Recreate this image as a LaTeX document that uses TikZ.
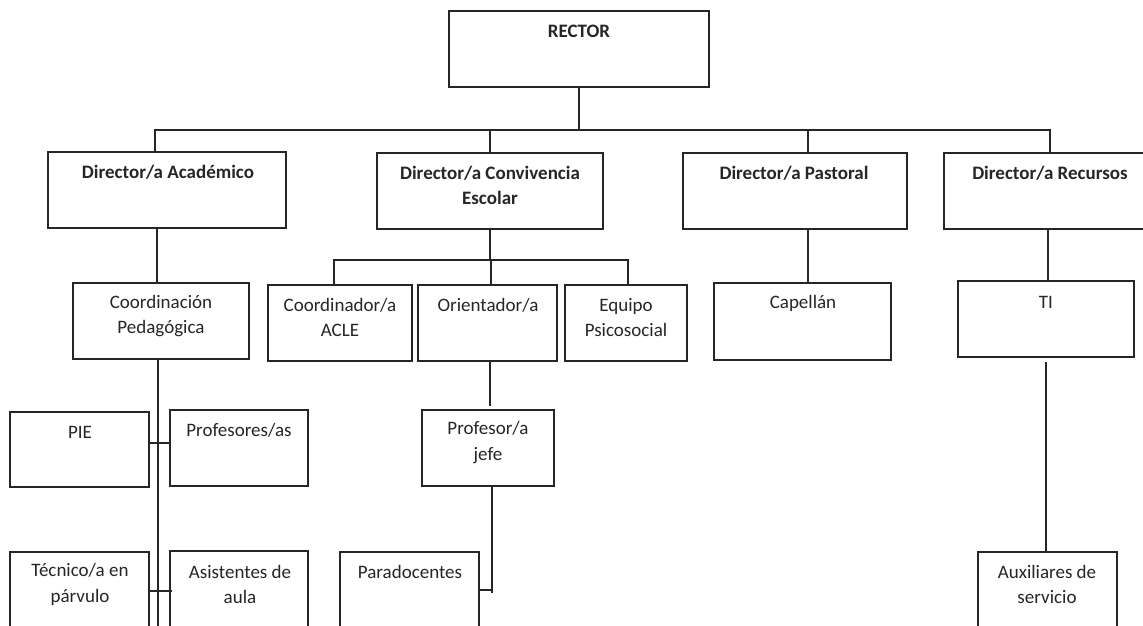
\documentclass[tikz,border=0pt]{standalone}
\usepackage{fontspec}
\setmainfont{Carlito}
\begin{document}
\begin{tikzpicture}[x=1pt,y=-1pt,
  box/.style={draw=black!85,line width=1.3pt,rectangle,inner sep=0pt},
  txt/.style={text=black!85,font=\fontsize{19}{25.5}\selectfont,align=center,inner sep=0pt},
  btxt/.style={txt,font=\fontsize{19}{25.5}\selectfont\bfseries},
  conn/.style={draw=black!85,line width=1.3pt}]
\useasboundingbox (0,0) rectangle (1143,625);
\fill[white] (0,0) rectangle (1143,625);
% boxes
\node[box,minimum width=260pt,minimum height=76pt] (rector) at (579,49) {};
\node[box,minimum width=238pt,minimum height=76pt] (dirA) at (167,190) {};
\node[box,minimum width=226pt,minimum height=76pt] (dirC) at (490,191) {};
\node[box,minimum width=224pt,minimum height=76pt] (dirP) at (795,191) {};
\node[box,minimum width=212pt,minimum height=76pt] (dirR) at (1050,191) {};
\node[box,minimum width=176pt,minimum height=76pt] (coordP) at (161,321) {};
\node[box,minimum width=144pt,minimum height=76pt] (acle) at (340,323) {};
\node[box,minimum width=139pt,minimum height=76pt] (orient) at (487.5,323) {};
\node[box,minimum width=122pt,minimum height=76pt] (equipo) at (626,323) {};
\node[box,minimum width=177pt,minimum height=77pt] (capellan) at (802.5,321.5) {};
\node[box,minimum width=176pt,minimum height=76pt] (ti) at (1046,319) {};
\node[box,minimum width=139pt,minimum height=75pt] (pie) at (79.5,449.5) {};
\node[box,minimum width=138pt,minimum height=76pt] (profs) at (239,448) {};
\node[box,minimum width=132pt,minimum height=76pt] (jefe) at (488,448) {};
\node[box,minimum width=139pt,minimum height=88pt] (tecnico) at (79.5,596) {};
\node[box,minimum width=138pt,minimum height=89pt] (asist) at (239,595.5) {};
\node[box,minimum width=139pt,minimum height=88pt] (parad) at (409.5,596) {};
\node[box,minimum width=139pt,minimum height=88pt] (aux) at (1047.5,596) {};
% texts
\node[btxt] (tRector) at (579,31) {RECTOR};
\node[btxt] (tDirA) at (168,172) {Director/a Académico};
\node[btxt] (tDirC) at (490,185.5) {Director/a Convivencia\\Escolar};
\node[btxt] (tDirP) at (794,173) {Director/a Pastoral};
\node[btxt] (tDirR) at (1050,173) {Director/a Recursos};
\node[txt] (tCoordP) at (161,316) {Coordinación\\Pedagógica};
\node[txt] (tAcle) at (340,317.5) {Coordinador/a\\ACLE};
\node[txt] (tOrient) at (488,305) {Orientador/a};
\node[txt] (tEquipo) at (626,317.5) {Equipo\\Psicosocial};
\node[txt] (tCap) at (803,303) {Capellán};
\node[txt] (tTI) at (1046,302) {TI};
\node[txt] (tPie) at (80,432) {PIE};
\node[txt] (tProfs) at (239,430) {Profesores/as};
\node[txt] (tJefe) at (488,442.5) {Profesor/a\\jefe};
\node[txt] (tTec) at (80,584.5) {Técnico/a en\\párvulo};
\node[txt] (tAsist) at (240,584.5) {Asistentes de\\aula};
\node[txt] (tParad) at (410,572) {Paradocentes};
\node[txt] (tAux) at (1047,584.5) {Auxiliares de\\servicio};
% connectors
\coordinate (bar) at (579,130);
\coordinate (jA) at (155,130);
\coordinate (jC) at (490,130);
\coordinate (jP) at (808,130);
\coordinate (jR) at (1050,130);
\draw[conn] (rector.south) -- (bar);
\draw[conn] (jA |- dirA.north) -- (jA) -- (jR) -- (jR |- dirR.north);
\draw[conn] (jC) -- (jC |- dirC.north);
\draw[conn] (jP) -- (jP |- dirP.north);
\coordinate (a1) at (157,0);
\draw[conn] (a1 |- dirA.south) -- (a1 |- coordP.north);
\coordinate (cbar) at (490,260);
\coordinate (c1) at (334,260);
\coordinate (c2) at (491,260);
\coordinate (c3) at (628,260);
\draw[conn] (cbar |- dirC.south) -- (cbar);
\draw[conn] (c1 |- acle.north) -- (c1) -- (c3) -- (c3 |- equipo.north);
\draw[conn] (c2) -- (c2 |- orient.north);
\coordinate (p1) at (808,0);
\draw[conn] (p1 |- dirP.south) -- (p1 |- capellan.north);
\coordinate (r1) at (1048,0);
\draw[conn] (r1 |- dirR.south) -- (r1 |- ti.north);
\coordinate (k1) at (158,0);
\coordinate (kEnd) at (158,630);
\draw[conn] (k1 |- coordP.south) -- (kEnd);
\coordinate (h1) at (0,443);
\draw[conn] (pie.east |- h1) -- (profs.west |- h1);
\coordinate (h2) at (0,591);
\draw[conn] (tecnico.east |- h2) -- (172,591);
\coordinate (o1) at (490,0);
\coordinate (o2) at (490,406);
\draw[conn] (o1 |- orient.south) -- (o2);
\coordinate (q1) at (492,0);
\coordinate (q2) at (492,593);
\draw[conn] (q1 |- jefe.south) -- (q2);
\coordinate (q3) at (492,590);
\draw[conn] (parad.east |- q3) -- (q3);
\coordinate (t1) at (1046,362);
\draw[conn] (t1) -- (t1 |- aux.north);
\end{tikzpicture}
\end{document}
